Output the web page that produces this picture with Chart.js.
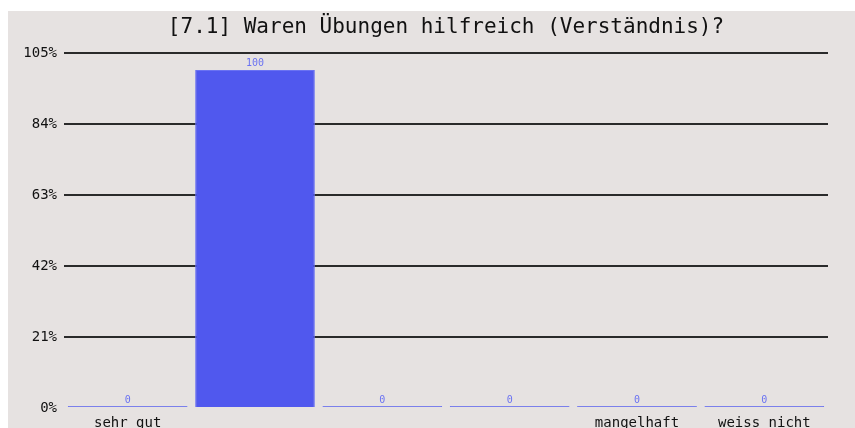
<!DOCTYPE html>
<html>
<head>
<meta charset="utf-8">
<script src="https://cdn.jsdelivr.net/npm/chart.js@4/dist/chart.umd.min.js"></script>
<style>
  html, body { margin: 0; padding: 0; background: #ffffff; }
  #wrap { position: absolute; left: 8px; top: 11px; width: 847px; height: 417px; background: #e6e2e1; }
</style>
</head>
<body>
<div id="wrap"><canvas id="umfrageChart"></canvas></div>
<script>
const titel = '[7.1] Waren Übungen hilfreich (Verständnis)?';
const kategorien = ['sehr gut', '', '', '', 'mangelhaft', 'weiss nicht'];
const werte = [0, 100, 0, 0, 0, 0];
const achsenTicks = [0, 21, 42, 63, 84, 105];

const mono = 'DejaVu Sans Mono';

// title centred over the plot area, value labels above each bar
const beschriftung = {
  id: 'beschriftung',
  afterDatasetsDraw(chart) {
    const ctx = chart.ctx;
    const area = chart.chartArea;
    const meta = chart.getDatasetMeta(0);
    ctx.save();
    ctx.font = '10px "' + mono + '"';
    ctx.fillStyle = '#6a72f2';
    ctx.textAlign = 'center';
    ctx.textBaseline = 'bottom';
    meta.data.forEach((bar, i) => {
      ctx.fillText(String(werte[i]), bar.x, bar.y - 1);
    });
    ctx.font = '21px "' + mono + '"';
    ctx.fillStyle = '#111111';
    ctx.textBaseline = 'middle';
    ctx.fillText(titel, (area.left + area.right) / 2, 17);
    ctx.restore();
  }
};

new Chart(document.getElementById('umfrageChart'), {
  type: 'bar',
  data: {
    labels: kategorien,
    datasets: [{
      data: werte,
      backgroundColor: '#5058ee',
      borderColor: '#6a72f2',
      borderWidth: 1,
      minBarLength: 2,
      barPercentage: 0.94,
      categoryPercentage: 1
    }]
  },
  options: {
    responsive: true,
    maintainAspectRatio: false,
    animation: false,
    layout: { padding: { left: 0, right: 27, top: 42, bottom: 0 } },
    plugins: {
      legend: { display: false },
      tooltip: { enabled: false },
      title: { display: false }
    },
    scales: {
      x: {
        grid: { display: false },
        border: { display: false },
        ticks: {
          color: '#111111',
          font: { family: mono, size: 14 },
          maxRotation: 0,
          autoSkip: false,
          padding: -1
        },
        afterFit(scale) { scale.height = 20; }
      },
      y: {
        min: 0,
        max: 105,
        afterBuildTicks(scale) { scale.ticks = achsenTicks.map(v => ({ value: v })); },
        grid: {
          color: c => c.tick && c.tick.value === 0 ? 'rgba(0,0,0,0)' : '#2a2a2a',
          lineWidth: 2,
          drawTicks: false
        },
        border: { display: false },
        ticks: {
          color: '#111111',
          font: { family: mono, size: 14 },
          padding: 7,
          callback: v => v + '%'
        },
        afterFit(scale) { scale.width = 56; }
      }
    }
  },
  plugins: [beschriftung]
});
</script>
</body>
</html>
